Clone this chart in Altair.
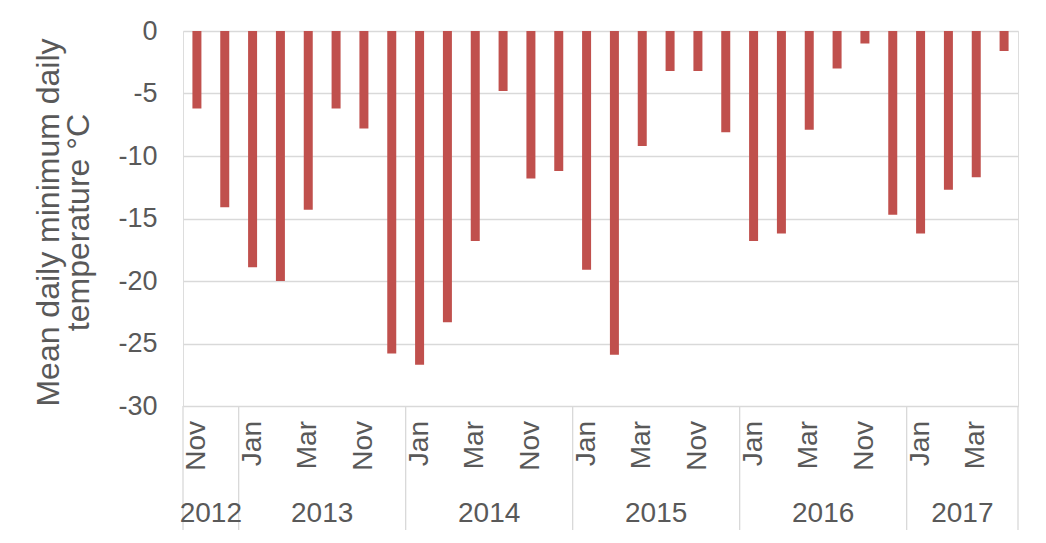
import altair as alt
import pandas as pd

years = [2012, 2012,
         2013, 2013, 2013, 2013, 2013, 2013,
         2014, 2014, 2014, 2014, 2014, 2014,
         2015, 2015, 2015, 2015, 2015, 2015,
         2016, 2016, 2016, 2016, 2016, 2016,
         2017, 2017, 2017, 2017]
months = ["Nov", "Dec",
          "Jan", "Feb", "Mar", "Apr", "Nov", "Dec",
          "Jan", "Feb", "Mar", "Apr", "Nov", "Dec",
          "Jan", "Feb", "Mar", "Apr", "Nov", "Dec",
          "Jan", "Feb", "Mar", "Apr", "Nov", "Dec",
          "Jan", "Feb", "Mar", "Apr"]
values = [-6.2, -14.1,
          -18.9, -20.0, -14.3, -6.2, -7.8, -25.8,
          -26.7, -23.3, -16.8, -4.8, -11.8, -11.2,
          -19.1, -25.9, -9.2, -3.2, -3.2, -8.1,
          -16.8, -16.2, -7.9, -3.0, -1.0, -14.7,
          -16.2, -12.7, -11.7, -1.6]
y_ticks = [0, -5, -10, -15, -20, -25, -30]

FONT = "Liberation Sans"
TXT = "#595959"
GRID = "#D9D9D9"

n = len(values)
rows = []
prev = None
k = 0
for i, (yr, m, v) in enumerate(zip(years, months, values)):
    if yr != prev:
        k = 0
        prev = yr
    rows.append({"i": i, "year": yr, "month": m, "value": v, "show": k % 2 == 0})
    k += 1
df = pd.DataFrame(rows)

year_df = df.groupby("year", as_index=False)["i"].mean().rename(columns={"i": "c"})
year_df["label"] = year_df["year"].astype(str)

bounds = [-0.5]
for i in range(1, n):
    if years[i] != years[i - 1]:
        bounds.append(i - 0.5)
bounds.append(n - 0.5)
sep_df = pd.DataFrame({"b": bounds})

xscale = alt.Scale(domain=[-0.5, n - 0.5], nice=False, zero=False, padding=0)

bars = alt.Chart(df).mark_bar(size=9, color="#C0504D").encode(
    x=alt.X("i:Q", scale=xscale, axis=None),
    y=alt.Y("value:Q", scale=alt.Scale(domain=[-30, 0], nice=False),
            axis=alt.Axis(values=y_ticks, grid=True, gridColor=GRID, gridWidth=1.3,
                          domain=False, ticks=False, tickSize=0, labelPadding=26,
                          labelFontSize=27, labelFont=FONT, labelColor=TXT,
                          labelExpr="datum.value + ''",
                          title=["Mean daily minimum daily", "temperature °C"],
                          titleFont=FONT, titleFontSize=32, titleFontWeight="normal",
                          titleColor=TXT, titlePadding=22, titleLineHeight=30,
                          titleY=191)),
)

month_text = alt.Chart(df).transform_filter("datum.show").mark_text(
    angle=270, align="right", baseline="middle", font=FONT, fontSize=28, color=TXT
).encode(
    x=alt.X("i:Q", scale=xscale),
    y=alt.value(390),
    text="month:N",
)

year_text = alt.Chart(year_df).mark_text(
    align="center", baseline="alphabetic", font=FONT, fontSize=28, color=TXT
).encode(
    x=alt.X("c:Q", scale=xscale),
    y=alt.value(491),
    text="label:N",
)

seps = alt.Chart(sep_df).mark_rule(color=GRID, strokeWidth=1.3).encode(
    x=alt.X("b:Q", scale=xscale),
    y=alt.value(375),
    y2=alt.value(499),
)

chart = alt.layer(bars, seps, month_text, year_text).properties(
    width=835, height=375,
    autosize=alt.AutoSizeParams(type="none"),
    padding={"left": 175, "top": 23, "right": 20, "bottom": 130},
).configure_view(stroke=None).configure(background="white")

chart.save("out.html", embed_options={"renderer": "svg", "actions": False})
